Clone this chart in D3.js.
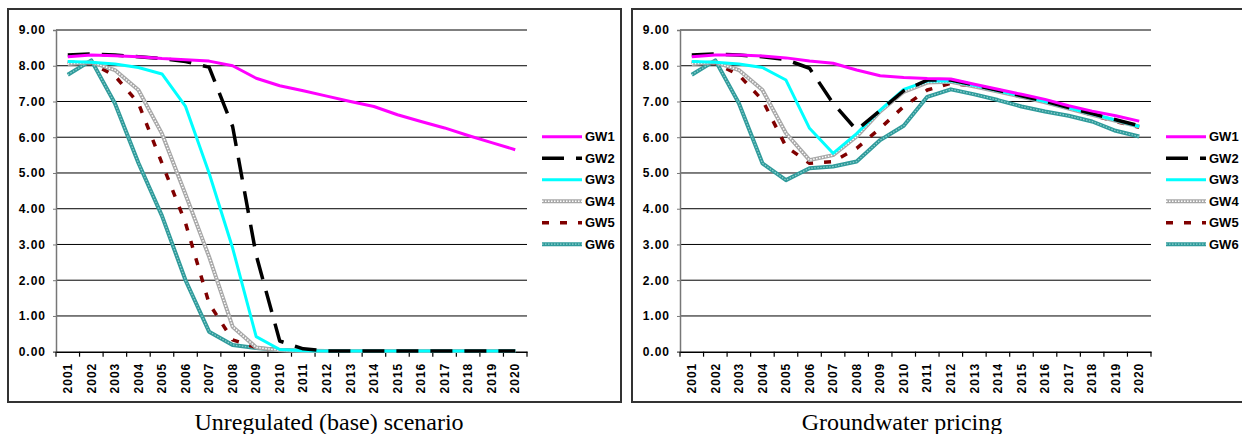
<!DOCTYPE html>
<html>
<head>
<meta charset="utf-8">
<script src="https://cdn.jsdelivr.net/npm/d3@7"></script>
<style>
  body { margin: 0; background: #fff; }
  svg { display: block; }
  .lbl { font-family: Arial, "Liberation Sans", sans-serif; font-weight: bold; font-size: 12px; letter-spacing: 1px; fill: #000; }
  .leg { font-family: Arial, "Liberation Sans", sans-serif; font-weight: bold; font-size: 13px; fill: #000; }
  .ttl { font-family: "Times New Roman", "Liberation Serif", serif; font-size: 24px; fill: #000; }
</style>
</head>
<body>
<script>
const years = d3.range(2001, 2021).map(String);
const yTicks = [0, 1, 2, 3, 4, 5, 6, 7, 8, 9];
const seriesNames = ["GW1", "GW2", "GW3", "GW4", "GW5", "GW6"];

// Unregulated (base) scenario
const baseGW1 = [8.25, 8.3, 8.28, 8.25, 8.2, 8.17, 8.13, 8.0, 7.65, 7.44, 7.3, 7.15, 7.0, 6.86, 6.63, 6.44, 6.26, 6.05, 5.85, 5.65];
const baseGW2 = [8.3, 8.33, 8.3, 8.25, 8.2, 8.12, 7.96, 6.3, 2.7, 0.3, 0.08, 0.02, 0.02, 0.02, 0.02, 0.02, 0.02, 0.02, 0.02, 0.02];
const baseGW3 = [8.12, 8.1, 8.05, 7.95, 7.77, 6.86, 5.0, 2.9, 0.42, 0.06, 0.03, 0.02, 0.02, 0.02, 0.02, 0.02, 0.02, 0.02, 0.02, 0.02];
const baseGW4 = [8.05, 8.1, 7.88, 7.32, 6.1, 4.4, 2.66, 0.7, 0.12, 0.04, 0.02, 0.02, 0.02, 0.02, 0.02, 0.02, 0.02, 0.02, 0.02, 0.02];
const baseGW5 = [8.1, 8.08, 7.72, 6.95, 5.27, 3.6, 1.35, 0.33, 0.12, 0.04, 0.02, 0.02, 0.02, 0.02, 0.02, 0.02, 0.02, 0.02, 0.02, 0.02];
const baseGW6 = [7.75, 8.15, 6.95, 5.28, 3.8, 2.0, 0.56, 0.19, 0.1, 0.05, 0.03, 0.02, 0.02, 0.02, 0.02, 0.02, 0.02, 0.02, 0.02, 0.02];

// Groundwater pricing
const priceGW1 = [8.25, 8.3, 8.3, 8.27, 8.22, 8.13, 8.07, 7.88, 7.72, 7.67, 7.64, 7.63, 7.48, 7.34, 7.2, 7.06, 6.88, 6.73, 6.6, 6.45];
const priceGW2 = [8.3, 8.33, 8.3, 8.25, 8.17, 7.93, 6.95, 6.2, 6.75, 7.3, 7.6, 7.6, 7.46, 7.31, 7.16, 7.01, 6.83, 6.66, 6.49, 6.32];
const priceGW3 = [8.12, 8.1, 8.05, 7.95, 7.6, 6.25, 5.55, 6.1, 6.76, 7.34, 7.57, 7.58, 7.45, 7.3, 7.15, 7.0, 6.82, 6.65, 6.48, 6.3];
const priceGW4 = [8.05, 8.1, 7.88, 7.32, 6.11, 5.36, 5.5, 6.02, 6.72, 7.27, 7.53, 7.55, 7.42, 7.28, 7.13, 6.98, 6.8, 6.63, 6.46, 6.3];
const priceGW5 = [8.1, 8.08, 7.74, 7.04, 5.74, 5.27, 5.32, 5.69, 6.25, 6.86, 7.32, 7.51, 7.43, 7.32, 7.13, 7.0, 6.84, 6.62, 6.44, 6.28];
const priceGW6 = [7.75, 8.15, 6.95, 5.27, 4.8, 5.13, 5.18, 5.32, 5.92, 6.32, 7.13, 7.34, 7.2, 7.04, 6.86, 6.72, 6.6, 6.44, 6.18, 6.02];

const baseSeries = [baseGW1, baseGW2, baseGW3, baseGW4, baseGW5, baseGW6];
const priceSeries = [priceGW1, priceGW2, priceGW3, priceGW4, priceGW5, priceGW6];

// stroke layers per series: base stroke + optional overlay
const styles = [
  [{ stroke: "#ff00ff", width: 3 }],
  [{ stroke: "#000", width: 3.5, dash: "22,12" }],
  [{ stroke: "#00ffff", width: 3 }],
  [{ stroke: "#a8a8a8", width: 4 }, { stroke: "#fff", width: 1.5, dash: "1.5,1.5" }],
  [{ stroke: "#800000", width: 3.5, dash: "7,11" }],
  [{ stroke: "#2f9b9b", width: 4 }, { stroke: "#8fd0d0", width: 1.2, dash: "1.5,1.5" }],
];

const W = 1242, H = 434;
const svg = d3.select("body").append("svg").attr("width", W).attr("height", H);

function drawPanel(px, series, title, titleX) {
  // panel border
  svg.append("rect")
    .attr("x", px).attr("y", 9)
    .attr("width", 613).attr("height", 393)
    .attr("fill", "none").attr("stroke", "#333").attr("stroke-width", 2);

  const left = px + 48, right = left + 471, top = 30, bottom = 351.7;

  const x = d3.scaleBand().domain(years).range([left, right]);
  const y = d3.scaleLinear().domain([0, 9]).range([bottom, top]);

  // gridlines
  svg.append("g").selectAll("line")
    .data(yTicks.slice(1))
    .join("line")
    .attr("x1", left).attr("x2", right)
    .attr("y1", d => y(d)).attr("y2", d => y(d))
    .attr("stroke", "#000").attr("stroke-width", 1);

  // y axis
  const ya = svg.append("g")
    .attr("transform", `translate(${left},0)`)
    .call(d3.axisLeft(y).tickValues(yTicks).tickSize(3).tickPadding(7).tickFormat(d3.format(".2f")));
  ya.select(".domain").attr("stroke", "#777").attr("stroke-width", 1.5);
  ya.selectAll(".tick line").attr("stroke", "#777");
  ya.selectAll("text").attr("class", "lbl").attr("font-size", null).attr("font-family", null);

  // x axis
  const xa = svg.append("g")
    .attr("transform", `translate(0,${bottom})`)
    .call(d3.axisBottom(x).tickSize(0).tickSizeOuter(0));
  xa.select(".domain").attr("stroke", "#000").attr("stroke-width", 1.5);
  xa.selectAll("text")
    .attr("class", "lbl").attr("font-size", null).attr("font-family", null)
    .attr("transform", "rotate(-90)")
    .attr("text-anchor", "end")
    .attr("x", -11).attr("y", 0).attr("dy", "0.35em");
  // tick marks at band boundaries
  svg.append("g").selectAll("line")
    .data(years.concat(["end"]))
    .join("line")
    .attr("x1", (d, i) => left + i * x.step()).attr("x2", (d, i) => left + i * x.step())
    .attr("y1", bottom).attr("y2", bottom + 5)
    .attr("stroke", "#000").attr("stroke-width", 1.2);

  const line = d3.line()
    .x((d, i) => x(years[i]) + x.bandwidth() / 2)
    .y(d => y(d));

  // draw lines (GW1 last so it sits on top like the original)
  const order = [5, 4, 3, 2, 1, 0];
  order.forEach(k => {
    styles[k].forEach(s => {
      svg.append("path")
        .datum(series[k])
        .attr("d", line)
        .attr("fill", "none")
        .attr("stroke", s.stroke)
        .attr("stroke-width", s.width)
        .attr("stroke-dasharray", s.dash || null)
        .attr("stroke-linejoin", "round");
    });
  });

  // legend
  const lx = right + 15;
  const leg = svg.append("g").selectAll("g")
    .data(seriesNames)
    .join("g")
    .attr("transform", (d, i) => `translate(${lx},${136.7 + i * 21.5})`);
  leg.each(function (d, i) {
    const g = d3.select(this);
    styles[i].forEach(s => {
      g.append("line")
        .attr("x1", 0).attr("x2", 40).attr("y1", 0).attr("y2", 0)
        .attr("stroke", s.stroke)
        .attr("stroke-width", s.width)
        .attr("stroke-dasharray", s.dash || null);
    });
  });
  leg.append("text")
    .attr("class", "leg")
    .attr("x", 43).attr("dy", "0.36em")
    .text(d => d);

  svg.append("text")
    .attr("class", "ttl")
    .attr("x", titleX).attr("y", 430)
    .attr("text-anchor", "middle")
    .text(title);
}

drawPanel(8, baseSeries, "Unregulated (base) scenario", 329);
drawPanel(632, priceSeries, "Groundwater pricing", 902);
</script>
</body>
</html>
